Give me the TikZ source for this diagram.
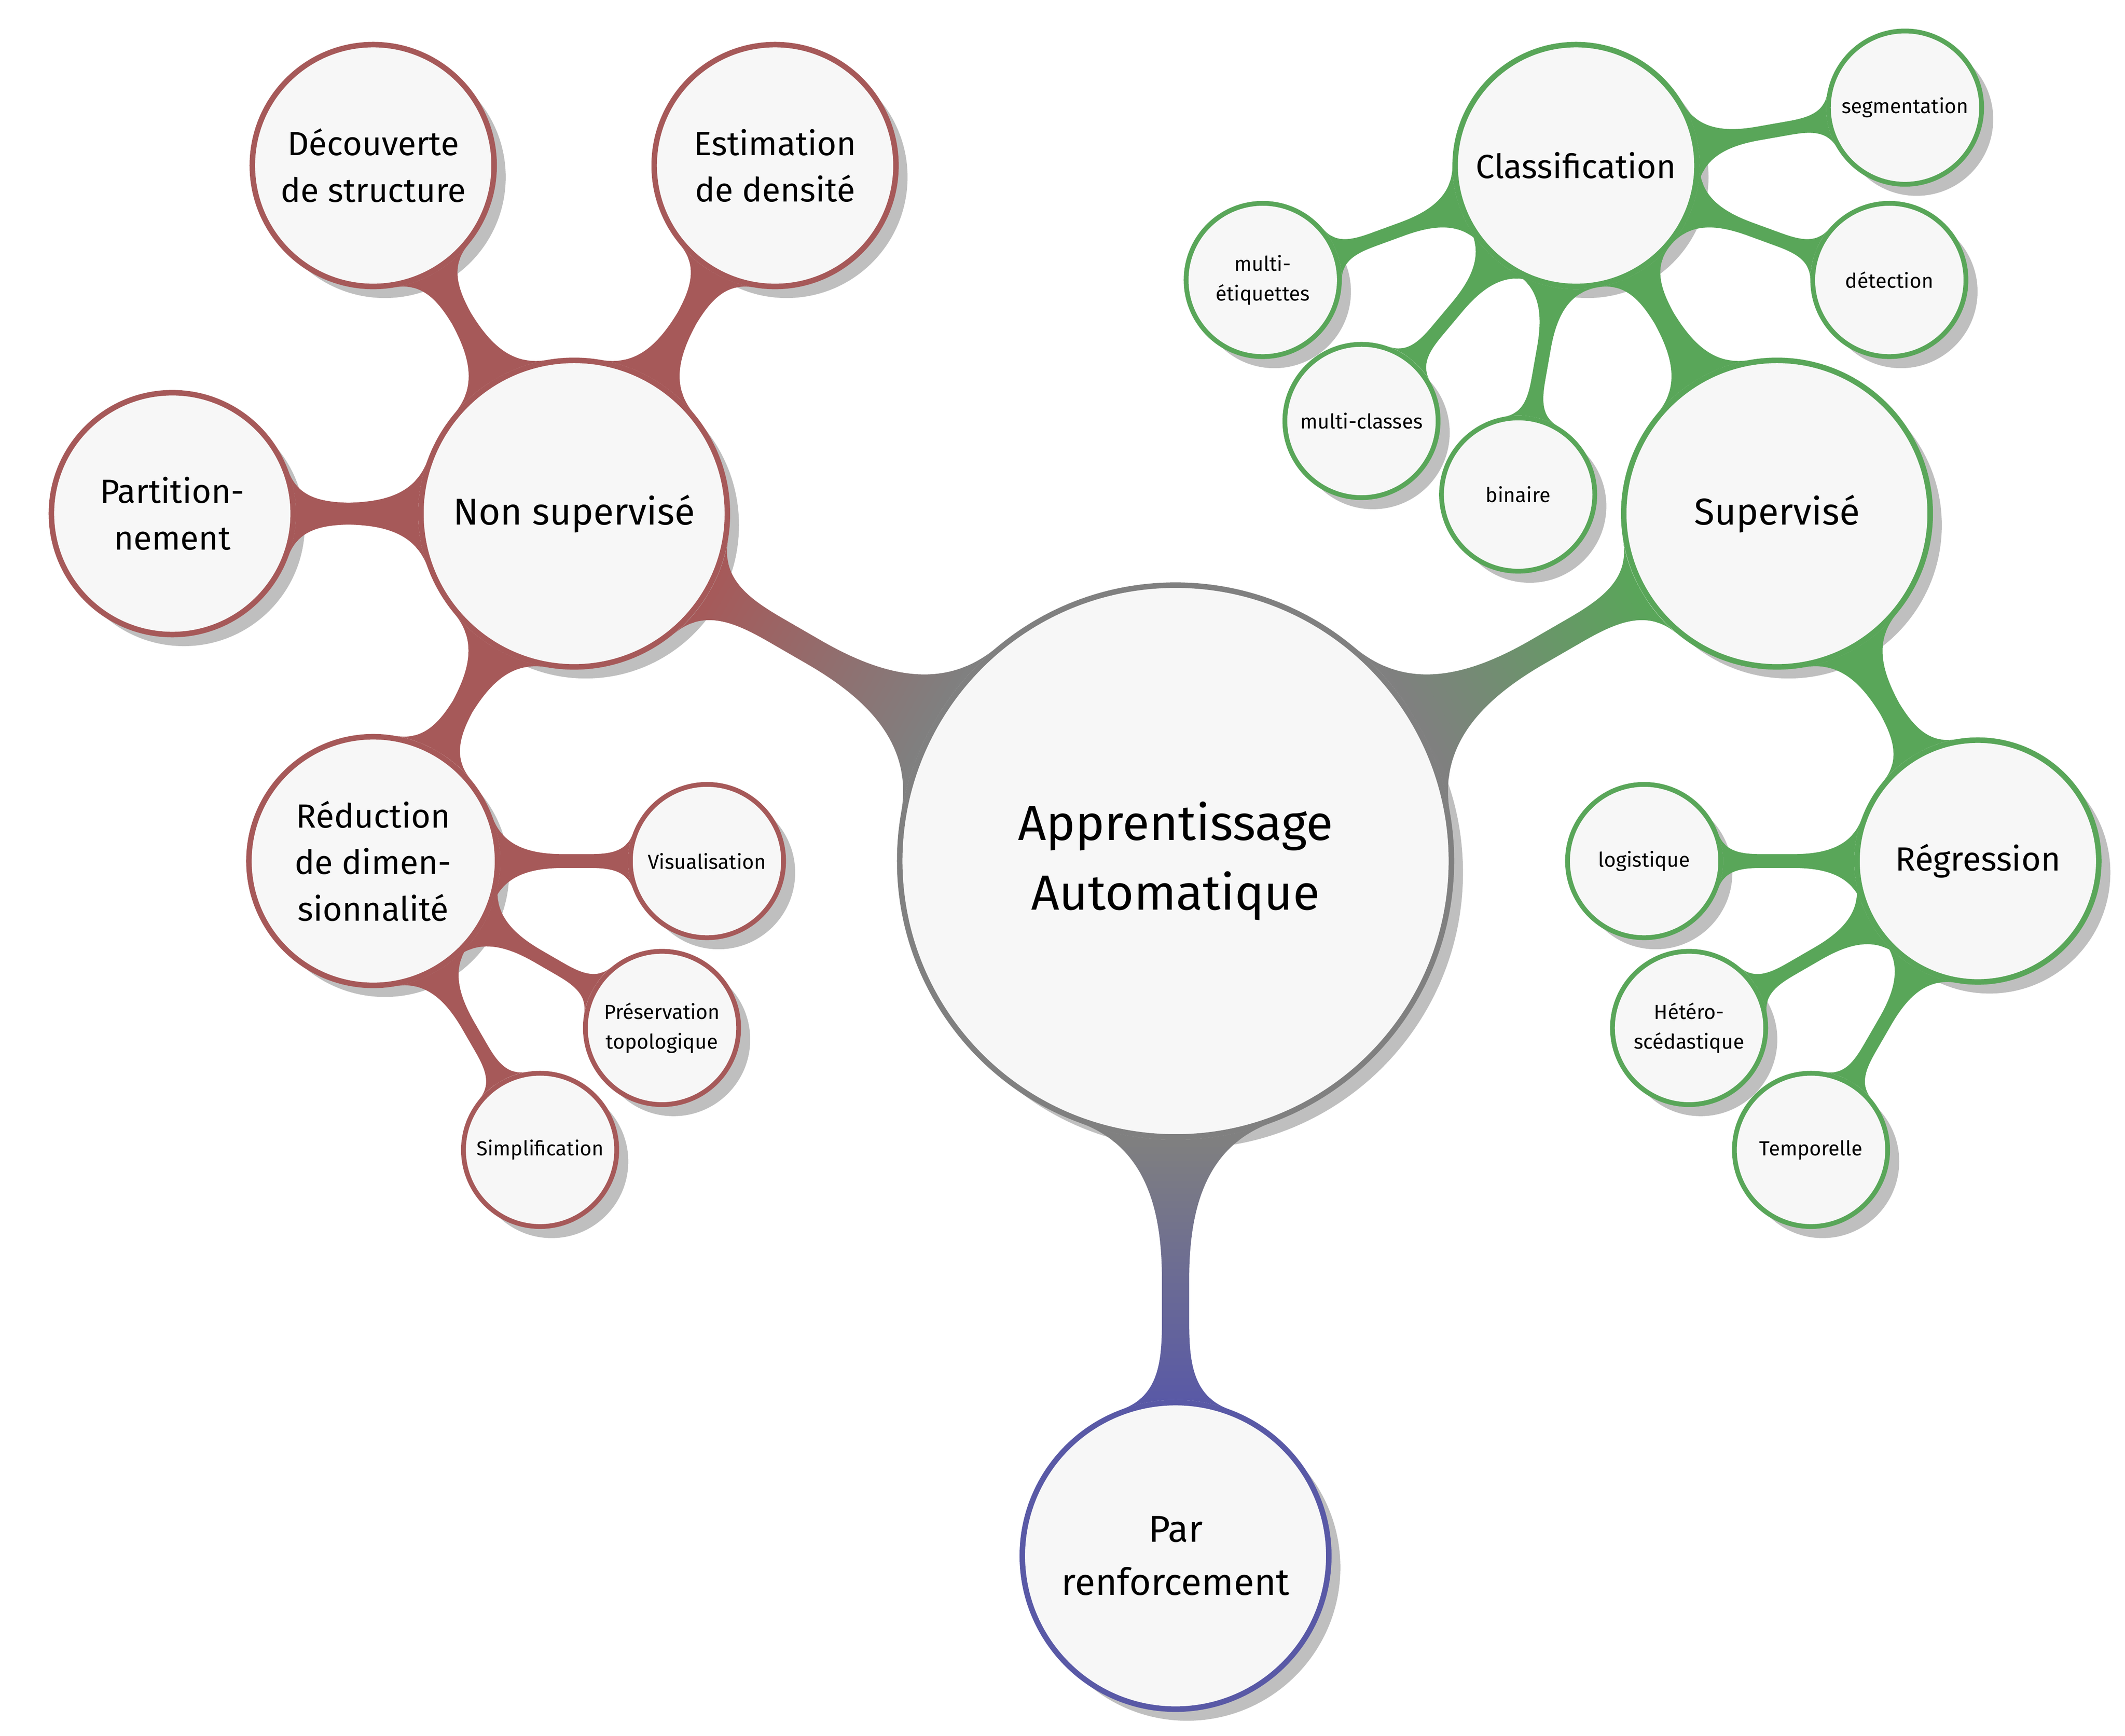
\documentclass[tikz,border=0pt]{standalone}
\usepackage{fontspec}
\setmainfont{Fira Sans}
\usetikzlibrary{mindmap,shadows}
\definecolor{cRoot}{rgb}{0.5,0.5,0.5}
\colorlet{cUns}{red!30!gray}
\colorlet{cSup}{green!30!gray}
\colorlet{cRen}{blue!30!gray}
\colorlet{cFill}{black!3}
\tikzset{
  idea/.style={circle, draw=#1, fill=cFill, text=black, align=center, inner sep=0pt,
    line width=2.3pt, drop shadow={shadow xshift=0.17cm, shadow yshift=-0.17cm, fill=black!25, opacity=1}},
  rootidea/.style={idea=cRoot, minimum size=8.1cm, font=\fontsize{20.6}{29}\selectfont},
  bigidea/.style={idea=#1, minimum size=4.5cm, font=\fontsize{15.6}{22.2}\selectfont},
  mididea/.style={idea=#1, minimum size=3.55cm, font=\fontsize{14}{19.4}\selectfont},
  smallidea/.style={idea=#1, minimum size=2.25cm, line width=2pt, font=\fontsize{8.5}{12.5}\selectfont},
  joint/.style 2 args={circle connection bar switch color=from (#1) to (#2)},
}
\begin{document}
\begin{tikzpicture}
	\useasboundingbox (-17.26,-12.84) rectangle (13.94,12.64);
	%Racine
	\node[rootidea] (root) at (0,0) {Apprentissage\\Automatique};
	%Niveau 1
	\node[bigidea=cUns] (unsup) at (-8.83,5.1) {Non supervisé};
	\node[bigidea=cSup] (sup) at (8.83,5.1) {Supervisé};
	\node[bigidea=cRen] (reinf) at (0,-10.2) {Par\\renforcement};
	%Non supervise
	\node[mididea=cUns] (decouv) at (-11.78,10.21) {Découverte\\de structure};
	\node[mididea=cUns] (estim) at (-5.88,10.21) {Estimation\\de densité};
	\node[mididea=cUns] (partit) at (-14.73,5.1) {Partition-\\nement};
	\node[mididea=cUns, minimum size=3.65cm] (reduc) at (-11.78,0) {Réduction\\de dimen-\\sionnalité};
	\node[smallidea=cUns] (visu) at (-6.88,0) {Visualisation};
	\node[smallidea=cUns] (preserv) at (-7.54,-2.45) {Préservation\\topologique};
	\node[smallidea=cUns] (simpl) at (-9.33,-4.24) {Simplification};
	%Supervise
	\node[mididea=cSup] (classif) at (5.88,10.21) {Classification};
	\node[mididea=cSup] (regress) at (11.78,0) {Régression};
	\node[smallidea=cSup] (segment) at (10.71,11.06) {segmentation};
	\node[smallidea=cSup] (detect) at (10.48,8.53) {détection};
	\node[smallidea=cSup] (binaire) at (5.03,5.38) {binaire};
	\node[smallidea=cSup] (multicl) at (2.73,6.46) {multi-classes};
	\node[smallidea=cSup] (multiet) at (1.28,8.53) {multi-\\étiquettes};
	\node[smallidea=cSup] (logist) at (6.88,0) {logistique};
	\node[smallidea=cSup] (hetero) at (7.54,-2.45) {Hétéro-\\scédastique};
	\node[smallidea=cSup] (tempo) at (9.33,-4.24) {Temporelle};
	%Liens niveau 1
	\path[line width=11pt] (root) to[joint={cRoot}{cUns}] (unsup);
	\path[line width=11pt] (root) to[joint={cRoot}{cSup}] (sup);
	\path[line width=11pt] (root) to[joint={cRoot}{cRen}] (reinf);
	%Liens niveau 2
	\path[line width=8pt] (unsup) to[joint={cUns}{cUns}] (decouv);
	\path[line width=8pt] (unsup) to[joint={cUns}{cUns}] (estim);
	\path[line width=8pt] (unsup) to[joint={cUns}{cUns}] (partit);
	\path[line width=8pt] (unsup) to[joint={cUns}{cUns}] (reduc);
	\path[line width=8pt] (sup) to[joint={cSup}{cSup}] (classif);
	\path[line width=8pt] (sup) to[joint={cSup}{cSup}] (regress);
	%Liens niveau 3
	\path[line width=6.5pt] (reduc) to[joint={cUns}{cUns}] (visu);
	\path[line width=6.5pt] (reduc) to[joint={cUns}{cUns}] (preserv);
	\path[line width=6.5pt] (reduc) to[joint={cUns}{cUns}] (simpl);
	\path[line width=6.5pt] (classif) to[joint={cSup}{cSup}] (segment);
	\path[line width=6.5pt] (classif) to[joint={cSup}{cSup}] (detect);
	\path[line width=6.5pt] (classif) to[joint={cSup}{cSup}] (binaire);
	\path[line width=6.5pt] (classif) to[joint={cSup}{cSup}] (multicl);
	\path[line width=6.5pt] (classif) to[joint={cSup}{cSup}] (multiet);
	\path[line width=6.5pt] (regress) to[joint={cSup}{cSup}] (logist);
	\path[line width=6.5pt] (regress) to[joint={cSup}{cSup}] (hetero);
	\path[line width=6.5pt] (regress) to[joint={cSup}{cSup}] (tempo);
\end{tikzpicture}
\end{document}
